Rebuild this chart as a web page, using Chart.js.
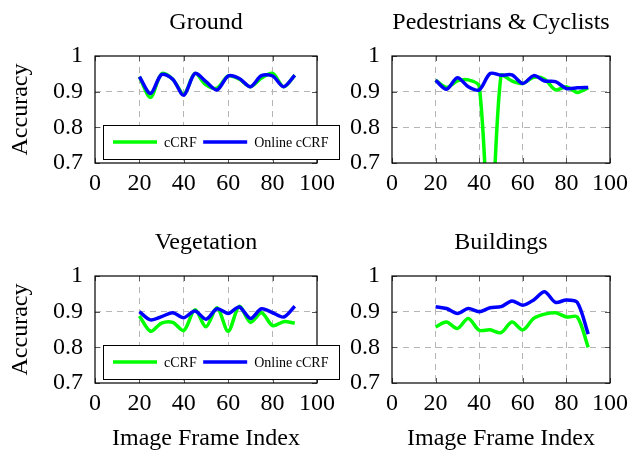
<!DOCTYPE html>
<html>
<head>
<meta charset="utf-8">
<script src="https://cdn.jsdelivr.net/npm/chart.js@4.4.1/dist/chart.umd.min.js"></script>
<style>
  html, body { margin: 0; padding: 0; background: #fff; width: 634px; height: 453px; overflow: hidden; }
  canvas { position: absolute; }
</style>
</head>
<body>
<canvas id="ground" width="350" height="220" style="left:0;top:0"></canvas>
<canvas id="peds" width="294" height="220" style="left:340px;top:0"></canvas>
<canvas id="veg" width="350" height="233" style="left:0;top:220px"></canvas>
<canvas id="bldg" width="294" height="233" style="left:340px;top:220px"></canvas>
<script>
// Frame indices shared by every panel
const frames = [20, 25, 30, 35, 40, 45, 50, 55, 60, 65, 70, 75, 80, 85, 90];

// Per-class accuracy, batch cCRF vs. online cCRF
const groundCRF       = [0.942, 0.884, 0.950, 0.935, 0.893, 0.951, 0.919, 0.910, 0.944, 0.935, 0.914, 0.938, 0.951, 0.914, 0.946];
const groundOnline    = [0.942, 0.895, 0.948, 0.935, 0.890, 0.951, 0.928, 0.905, 0.944, 0.937, 0.914, 0.945, 0.944, 0.914, 0.946];
const pedsCRF         = [0.932, 0.912, 0.930, 0.933, 0.915, 0.470, 0.945, 0.930, 0.923, 0.940, 0.935, 0.905, 0.914, 0.898, 0.911];
const pedsOnline      = [0.932, 0.907, 0.939, 0.914, 0.905, 0.951, 0.946, 0.947, 0.923, 0.945, 0.930, 0.928, 0.909, 0.911, 0.912];
const vegCRF          = [0.888, 0.845, 0.868, 0.870, 0.847, 0.905, 0.858, 0.911, 0.845, 0.915, 0.870, 0.897, 0.861, 0.872, 0.868];
const vegOnline       = [0.900, 0.877, 0.886, 0.897, 0.883, 0.902, 0.879, 0.908, 0.895, 0.913, 0.881, 0.908, 0.897, 0.885, 0.915];
const bldgCRF         = [0.857, 0.871, 0.853, 0.881, 0.848, 0.849, 0.841, 0.871, 0.849, 0.881, 0.893, 0.897, 0.885, 0.885, 0.800];
const bldgOnline      = [0.914, 0.909, 0.895, 0.909, 0.900, 0.911, 0.914, 0.930, 0.918, 0.933, 0.956, 0.926, 0.933, 0.926, 0.837];

// Axis ticks
const xTickValues = [0, 20, 40, 60, 80, 100];
const xTickLabels = ['0', '20', '40', '60', '80', '100'];
const yTickValues = [0.7, 0.8, 0.9, 1];
const yTickLabels = ['0.7', '0.8', '0.9', '1'];

const seriesNames = ['cCRF', 'Online cCRF'];
const GREEN = '#00ff00';
const BLUE = '#0000ff';
const SERIF = '"Liberation Serif", "Times New Roman", serif';

// Panel title, frame box, inner tick marks and the in-plot legend
const panelDecor = {
  id: 'panelDecor',
  afterDatasetsDraw(chart, args, opts) {
    const { ctx, chartArea: a } = chart;
    const xs = chart.scales.x, ys = chart.scales.y;
    ctx.save();
    // inner tick marks on all four sides
    ctx.strokeStyle = '#555';
    ctx.lineWidth = 1;
    const tl = 5;
    ctx.beginPath();
    xTickValues.forEach(v => {
      const px = Math.round(xs.getPixelForValue(v)) + 0.5;
      ctx.moveTo(px, a.bottom); ctx.lineTo(px, a.bottom - tl);
      ctx.moveTo(px, a.top); ctx.lineTo(px, a.top + tl);
    });
    yTickValues.forEach(v => {
      const py = Math.round(ys.getPixelForValue(v)) + 0.5;
      ctx.moveTo(a.left, py); ctx.lineTo(a.left + tl, py);
      ctx.moveTo(a.right, py); ctx.lineTo(a.right - tl, py);
    });
    ctx.stroke();
    // frame
    ctx.strokeStyle = '#000';
    ctx.lineWidth = 1.2;
    ctx.strokeRect(a.left, a.top, a.right - a.left, a.bottom - a.top);
    // title
    ctx.fillStyle = '#000';
    ctx.font = '24px ' + SERIF;
    ctx.textAlign = 'center';
    ctx.textBaseline = 'alphabetic';
    ctx.fillText(opts.title, (a.left + a.right) / 2, a.top - 27);
    // legend
    if (opts.legend) {
      const bx = a.left + 8, by = a.top + 69, bw = 236, bh = 34;
      ctx.fillStyle = '#fff';
      ctx.fillRect(bx, by, bw, bh);
      ctx.strokeStyle = '#000';
      ctx.lineWidth = 1;
      ctx.strokeRect(bx + 0.5, by + 0.5, bw, bh);
      ctx.font = '14px ' + SERIF;
      ctx.textAlign = 'left';
      let x = bx + 10;
      const cy = by + bh / 2;
      const ordered = chart.data.datasets.slice().sort((p, q) => q.order - p.order);
      ordered.forEach(ds => {
        ctx.strokeStyle = ds.borderColor;
        ctx.lineWidth = 3.5;
        ctx.beginPath();
        ctx.moveTo(x, cy); ctx.lineTo(x + 44, cy);
        ctx.stroke();
        x += 51;
        ctx.fillStyle = '#000';
        ctx.fillText(ds.label, x, cy + 4.5);
        x += ctx.measureText(ds.label).width + 6.5;
      });
    }
    ctx.restore();
  }
};

function makePanel(id, title, crf, online, opt) {
  const pts = vals => frames.map((f, i) => ({ x: f, y: vals[i] }));
  const line = (label, vals, color, order) => ({
    label, data: pts(vals), borderColor: color, backgroundColor: color,
    borderWidth: 3.5, pointRadius: 0, tension: 0.3, fill: false, order, clip: 0
  });
  new Chart(document.getElementById(id), {
    type: 'line',
    data: {
      datasets: [
        line(seriesNames[0], crf, GREEN, 2),
        line(seriesNames[1], online, BLUE, 1)
      ]
    },
    options: {
      responsive: false,
      animation: false,
      layout: { padding: { top: 56, right: opt.padRight, left: 0, bottom: 0 } },
      plugins: {
        legend: { display: false },
        tooltip: { enabled: false },
        panelDecor: { title, legend: opt.legend }
      },
      scales: {
        x: {
          type: 'linear', min: 0, max: 100,
          afterBuildTicks: s => { s.ticks = xTickValues.map(v => ({ value: v })); },
          afterFit: s => { s.height = opt.xHeight; },
          ticks: {
            color: '#000', padding: 6, maxRotation: 0, autoSkip: false,
            font: { family: SERIF, size: 24 },
            callback: (v, i) => xTickLabels[i]
          },
          grid: {
            drawTicks: false, lineWidth: 1,
            color: c => (c.tick && (c.tick.value === 0 || c.tick.value === 100)) ? 'rgba(0,0,0,0)' : '#b5b5b5'
          },
          border: { display: false, dash: [6, 5] },
          title: {
            display: !!opt.xTitle, text: 'Image Frame Index', color: '#000',
            font: { family: SERIF, size: 24 }, padding: { top: 0, bottom: 0 }
          }
        },
        y: {
          type: 'linear', min: 0.7, max: 1,
          afterBuildTicks: s => { s.ticks = yTickValues.map(v => ({ value: v })); },
          afterFit: s => { s.width = opt.yWidth; },
          ticks: {
            color: '#000', padding: 12, autoSkip: false,
            font: { family: SERIF, size: 24 },
            callback: (v, i) => yTickLabels[i]
          },
          grid: {
            drawTicks: false, lineWidth: 1,
            color: c => (c.tick && (Math.abs(c.tick.value - 0.7) < 1e-9 || Math.abs(c.tick.value - 1) < 1e-9)) ? 'rgba(0,0,0,0)' : '#b5b5b5'
          },
          border: { display: false, dash: [6, 5] },
          title: {
            display: !!opt.yTitle, text: 'Accuracy', color: '#000',
            font: { family: SERIF, size: 24 }, padding: { top: 6, bottom: 0 }
          }
        }
      }
    },
    plugins: [panelDecor]
  });
}

makePanel('ground', 'Ground', groundCRF, groundOnline,
  { padRight: 33, yWidth: 95, xHeight: 57, yTitle: true, xTitle: false, legend: true });
makePanel('peds', 'Pedestrians & Cyclists', pedsCRF, pedsOnline,
  { padRight: 22, yWidth: 52, xHeight: 57, yTitle: false, xTitle: false, legend: false });
makePanel('veg', 'Vegetation', vegCRF, vegOnline,
  { padRight: 33, yWidth: 95, xHeight: 70, yTitle: true, xTitle: true, legend: true });
makePanel('bldg', 'Buildings', bldgCRF, bldgOnline,
  { padRight: 22, yWidth: 52, xHeight: 70, yTitle: false, xTitle: true, legend: false });
</script>
</body>
</html>
